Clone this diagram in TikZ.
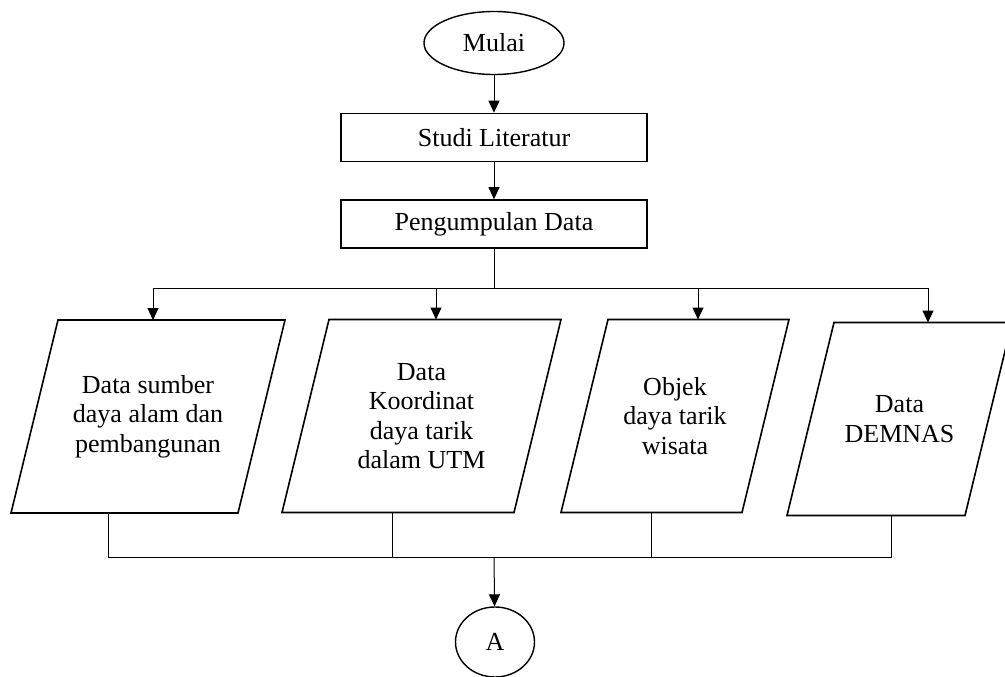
\documentclass[tikz,border=0pt]{standalone}
\usepackage{fontspec}
\setmainfont{Liberation Serif}
\usetikzlibrary{shapes.geometric, arrows.meta, positioning, calc}

\begin{document}
\begin{tikzpicture}[
            x=1pt, y=-1pt,
            startstop/.style={ellipse, draw=black, line width=1.4pt, minimum width=140pt, minimum height=63pt, inner sep=0pt, font=\fontsize{26}{30}\selectfont},
            process/.style={rectangle, draw=black, line width=1.6pt, minimum width=306pt, minimum height=48pt, inner sep=0pt, font=\fontsize{26}{30}\selectfont},
            io/.style={rectangle, minimum height=193pt, inner sep=0pt, outer sep=0pt, align=center, font=\fontsize{26}{29.5}\selectfont},
            ioline/.style={draw=black, line width=1.6pt, line join=miter},
            offpage/.style={ellipse, draw=black, line width=1.4pt, minimum width=79pt, minimum height=70pt, inner sep=0pt, font=\fontsize{26}{30}\selectfont},
            arrow/.style={-{Triangle[width=11pt,length=12pt]}, line width=1pt},
            link/.style={line width=1pt}
        ]

            \useasboundingbox (0,0) rectangle (1005,677);

% Start and process nodes
            \node[startstop] (mulai) at (494,43) {Mulai};
            \node[process] (studi) at (494,137.5) {Studi Literatur};
            \node[process] (kumpul) at (494,224) {Pengumpulan Data};

% Data nodes
            \node[io, minimum width=227pt] (data1) at (148,416.5) {Data sumber\\daya alam dan\\pembangunan};
            \node[io, minimum width=232pt] (data2) at (421.5,416) {Data\\Koordinat\\daya tarik\\dalam UTM};
            \node[io, minimum width=181pt] (data3) at (675,416) {Objek\\daya tarik\\wisata};
            \node[io, minimum width=178pt] (data4) at (899.5,419) {Data\\DEMNAS};

% Parallelogram outlines
            \foreach \n in {data1,data2,data3,data4}
                \draw[ioline] ([xshift=23.5pt]\n.north west) -- ([xshift=23.5pt]\n.north east)
                    -- ([xshift=-23.5pt]\n.south east) -- ([xshift=-23.5pt]\n.south west) -- cycle;

% Connector node
            \node[offpage] (konA) at (495,642) {A};

% Branch points
            \coordinate (split) at (494,288);
            \coordinate (t1) at (153,288);
            \coordinate (t2) at (436,288);
            \coordinate (t3) at (698,288);
            \coordinate (t4) at (928,288);

            \coordinate (merge) at (494,557);
            \coordinate (b1) at (108,557);
            \coordinate (b2) at (392,557);
            \coordinate (b3) at (651,557);
            \coordinate (b4) at (891,557);

% Main flow
            \draw[arrow] (mulai) -- (studi);
            \draw[arrow] (studi) -- (kumpul);
            \draw[link] (kumpul) -- (split);

% Split to data
            \draw[link] (t1) -- (t4);
            \draw[arrow] (t1) -- (t1 |- data1.north);
            \draw[arrow] (t2) -- (t2 |- data2.north);
            \draw[arrow] (t3) -- (t3 |- data3.north);
            \draw[arrow] (t4) -- (t4 |- data4.north);

% Data to merge
            \draw[link] (b1 |- data1.south) -- (b1) -- (b4) -- (b4 |- data4.south);
            \draw[link] (b2 |- data2.south) -- (b2);
            \draw[link] (b3 |- data3.south) -- (b3);
            \draw[arrow] (merge) -- (konA);

        \end{tikzpicture}
\end{document}
